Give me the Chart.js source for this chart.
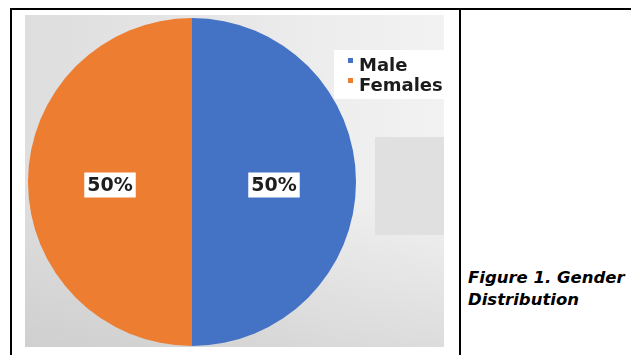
<!DOCTYPE html>
<html>
<head>
<meta charset="utf-8">
<script src="https://cdn.jsdelivr.net/npm/chart.js@4.4.0/dist/chart.umd.min.js"></script>
<style>
  html, body { margin: 0; padding: 0; background: #fff; width: 631px; height: 355px; overflow: hidden; }
  #topline { position: absolute; left: 10px; top: 8px; width: 640px; height: 2px; background: #000; }
  #leftline { position: absolute; left: 10px; top: 8px; width: 2px; height: 360px; background: #000; }
  #midline { position: absolute; left: 459px; top: 8px; width: 2px; height: 360px; background: #000; }
  #wrap { position: absolute; left: 25px; top: 15px; width: 419px; height: 332px;
    background:
      linear-gradient(180deg, rgba(255,255,255,0) 55%, rgba(180,180,180,0.35) 100%),
      linear-gradient(90deg, #dedede 0%, #e6e6e6 45%, #eeeeee 75%, #f2f2f2 100%); }
  #grayBox { position: absolute; left: 350px; top: 122px; width: 69px; height: 98px; background: #e0e0e0; }
  #chart { position: absolute; left: 0; top: 0; }
  #caption { position: absolute; left: 468px; top: 267px; white-space: nowrap;
    font-family: "DejaVu Sans", Verdana, sans-serif; font-weight: bold; font-style: italic;
    font-size: 16.5px; line-height: 22px; color: #000; }
</style>
</head>
<body>
<div id="topline"></div>
<div id="leftline"></div>
<div id="midline"></div>
<div id="wrap">
  <div id="grayBox"></div>
  <canvas id="chart" width="419" height="332"></canvas>
</div>
<div id="caption">Figure 1. Gender<br>Distribution</div>
<script>
const categories = ["Male", "Females"];
const values = [50, 50];
const percentLabels = ["50%", "50%"];
const colors = ["#4472C4", "#ED7D31"];

const dataLabelPlugin = {
  id: "dataLabels",
  afterDatasetsDraw(chart) {
    const ctx = chart.ctx;
    const meta = chart.getDatasetMeta(0);
    ctx.save();
    ctx.font = "bold 19px 'DejaVu Sans', Verdana, sans-serif";
    ctx.textAlign = "center";
    ctx.textBaseline = "middle";
    meta.data.forEach((arc, i) => {
      const p = arc.tooltipPosition();
      const txt = percentLabels[i];
      const w = ctx.measureText(txt).width + 6;
      const h = 25;
      ctx.fillStyle = "#ffffff";
      ctx.fillRect(p.x - w / 2, p.y + 3 - h / 2, w, h);
      ctx.fillStyle = "#1e1e1e";
      ctx.fillText(txt, p.x, p.y + 4);
    });
    ctx.restore();
  }
};

const legendPlugin = {
  id: "customLegend",
  afterDraw(chart) {
    const ctx = chart.ctx;
    ctx.save();
    ctx.fillStyle = "#ffffff";
    ctx.fillRect(309, 35, 110, 49);
    ctx.font = "bold 18px 'DejaVu Sans', Verdana, sans-serif";
    ctx.textBaseline = "alphabetic";
    ctx.textAlign = "left";
    const ds = chart.data.datasets[0];
    chart.data.labels.forEach((lab, i) => {
      const y = 56 + i * 20;
      ctx.fillStyle = ds.backgroundColor[i];
      ctx.fillRect(323, y - 13, 5, 5);
      ctx.fillStyle = "#1c1c1c";
      ctx.fillText(lab, 334, y);
    });
    ctx.restore();
  }
};

new Chart(document.getElementById("chart"), {
  type: "pie",
  data: {
    labels: categories,
    datasets: [{
      data: values,
      backgroundColor: colors,
      borderWidth: 0
    }]
  },
  options: {
    responsive: false,
    devicePixelRatio: 1,
    animation: false,
    layout: { padding: { left: 3, right: 88, top: 3, bottom: 1 } },
    plugins: {
      legend: { display: false },
      tooltip: { enabled: false }
    }
  },
  plugins: [dataLabelPlugin, legendPlugin]
});
</script>
</body>
</html>
